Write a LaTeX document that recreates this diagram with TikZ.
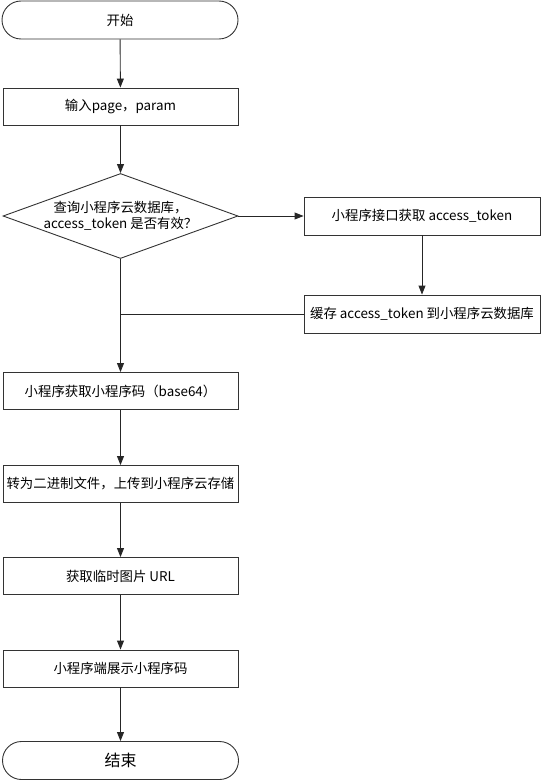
\documentclass[tikz,border=0pt]{standalone}
\usepackage{fontspec}
\setmainfont{Noto Sans CJK SC}
\usetikzlibrary{shapes.geometric,arrows.meta}
\begin{document}
\begin{tikzpicture}[x=1pt,y=-1pt,
  every node/.style={font=\fontsize{13.4}{16}\selectfont, inner sep=0pt},
  procbox/.style={draw=black!80, line width=0.9pt, minimum width=235pt, minimum height=37pt, anchor=center},
  rbox/.style={draw=black!80, line width=0.9pt, minimum width=236pt, minimum height=38pt, anchor=center},
  term/.style={draw=black!80, line width=0.9pt, rounded corners=19pt, minimum width=236pt, minimum height=38pt, anchor=center},
  decis/.style={draw=black!80, line width=0.9pt, diamond, minimum width=235pt, minimum height=85pt, anchor=center},
  flow/.style={draw=black!85, line width=0.9pt, -{Triangle[length=9pt,width=7pt]}},
  plain/.style={draw=black!85, line width=0.9pt}
]
\useasboundingbox (0,0) rectangle (541,781);
\node[term] (start) at (120,20) {开始};
\node[procbox] (b1) at (120.5,106.5) {输入page，param};
\node[decis] (q) at (120.5,216) {};
\node[align=center] (qt) at (120.5,216) {查询小程序云数据库，\\access\_token 是否有效？};
\node[rbox] (r1) at (422,216) {小程序接口获取 access\_token};
\node[rbox] (r2) at (422,314) {缓存 access\_token 到小程序云数据库};
\node[procbox] (b3) at (120.5,391) {小程序获取小程序码（base64）};
\node[procbox] (b4) at (120.5,484) {转为二进制文件，上传到小程序云存储};
\node[procbox] (b5) at (120.5,576) {获取临时图片 URL};
\node[procbox] (b6) at (120.5,668.5) {小程序端展示小程序码};
\node[term, font=\fontsize{16}{18}\selectfont] (end) at (120.5,760.5) {结束};
\coordinate (join) at (r2.west -| q.south);
\draw[flow] (start) -- (b1);
\draw[flow] (b1) -- (q.north);
\draw[flow] (q.east) -- (r1.west);
\draw[flow] (r1) -- (r2);
\draw[plain] (r2.west) -- (join);
\draw[flow] (q.south) -- (b3.north);
\draw[flow] (b3) -- (b4);
\draw[flow] (b4) -- (b5);
\draw[flow] (b5) -- (b6);
\draw[flow] (b6) -- (end);
\end{tikzpicture}
\end{document}
